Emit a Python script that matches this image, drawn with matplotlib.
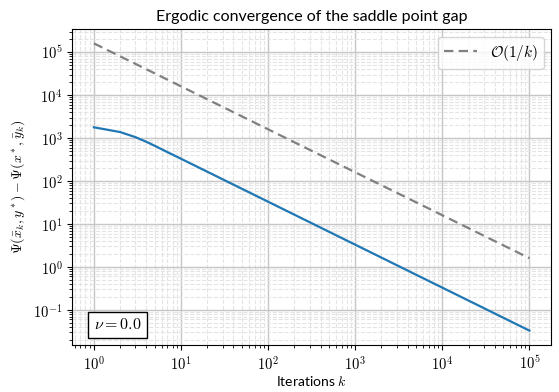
import numpy as np
import matplotlib
matplotlib.use("Agg")
import matplotlib.pyplot as plt
from matplotlib.ticker import FuncFormatter, NullFormatter

plt.rcParams['font.family'] = ['Lato', 'DejaVu Sans']
plt.rcParams['mathtext.fontset'] = 'cm'

# values
k_gap = [1, 2, 3, 4, 5, 7, 10, 100, 1000, 10000, 100000]
gap = [1780, 1380, 1050, 820, 660, 470, 330, 33, 3.3, 0.33, 0.033]
k_ref = [1, 10, 100, 1000, 10000, 100000]
ref = [1.6e5, 1.6e4, 1.6e3, 160, 16, 1.6]
nu = 0.0

fig, ax = plt.subplots(figsize=(5.59, 3.92), dpi=100)
fig.subplots_adjust(left=0.129, right=0.986, top=0.926, bottom=0.12)

ax.loglog(k_gap, gap, color='#1f77b4', lw=1.6)
ax.loglog(k_ref, ref, color='gray', lw=1.6, dashes=(4.2, 2.4),
          label=r'$\mathcal{O}(1/k)$')

ax.grid(True, which='major', color='#c6c6c6', lw=1.0)
ax.grid(True, which='minor', color='#e4e4e4', lw=0.8, ls='--')
ax.set_axisbelow(True)

def pow10(v, pos):
    return r'$10^{%d}$' % round(np.log10(v))

for axis in (ax.xaxis, ax.yaxis):
    axis.set_major_formatter(FuncFormatter(pow10))
    axis.set_minor_formatter(NullFormatter())

ax.set_title('Ergodic convergence of the saddle point gap', fontsize=11.5)
ax.set_xlabel(r'Iterations $k$', fontsize=10, labelpad=1)
ax.set_ylabel(r'$\Psi(\bar{x}_k, y^*) - \Psi(x^*, \bar{y}_k)$', fontsize=10)
ax.tick_params(labelsize=10.5)

ax.legend(loc='upper right', fontsize=11, handlelength=2.2)
ax.text(0.045, 0.05, r'$\nu = %.1f$' % nu, transform=ax.transAxes, fontsize=11.5,
        bbox=dict(boxstyle='square,pad=0.35', fc='white', ec='black', lw=1))

fig.savefig('out.png', dpi=100)
